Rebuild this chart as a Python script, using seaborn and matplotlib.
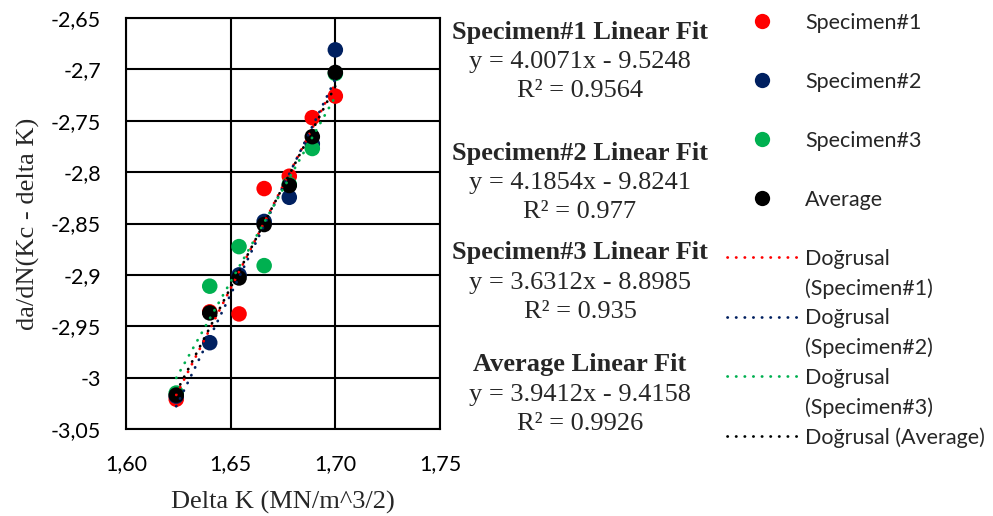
import numpy as np
import pandas as pd
import matplotlib
matplotlib.use("Agg")
import matplotlib.pyplot as plt
import seaborn as sns
from matplotlib.lines import Line2D

# ---- data ----
delta_k = [1.624, 1.640, 1.654, 1.666, 1.678, 1.689, 1.700]
specimen1 = [-3.021, -2.936, -2.938, -2.816, -2.804, -2.747, -2.726]
specimen2 = [-3.018, -2.966, -2.900, -2.848, -2.8245, -2.7725, -2.681]
specimen3 = [-3.015, -2.911, -2.8725, -2.891, -2.812, -2.777, -2.704]
average = [-3.017, -2.937, -2.903, -2.851, -2.813, -2.7655, -2.703]

series_names = ["Specimen#1", "Specimen#2", "Specimen#3", "Average"]
series_colors = ["#FF0000", "#002060", "#00B050", "#000000"]
fit_titles = ["Specimen#1 Linear Fit", "Specimen#2 Linear Fit",
              "Specimen#3 Linear Fit", "Average Linear Fit"]
fit_equations = ["y = 4.0071x - 9.5248", "y = 4.1854x - 9.8241",
                 "y = 3.6312x - 8.8985", "y = 3.9412x - 9.4158"]
fit_r2 = ["R² = 0.9564", "R² = 0.977", "R² = 0.935", "R² = 0.9926"]
trend_labels = ["Doğrusal\n(Specimen#1)", "Doğrusal\n(Specimen#2)",
                "Doğrusal\n(Specimen#3)", "Doğrusal (Average)"]

x_ticks = [1.60, 1.65, 1.70, 1.75]
x_tick_labels = ["1,60", "1,65", "1,70", "1,75"]
y_ticks = [-3.05, -3.0, -2.95, -2.9, -2.85, -2.8, -2.75, -2.7, -2.65]
y_tick_labels = ["-3,05", "-3", "-2,95", "-2,9", "-2,85", "-2,8", "-2,75", "-2,7", "-2,65"]

x_label = "Delta K (MN/m^3/2)"
y_label = "da/dN(Kc - delta K)"

values = [specimen1, specimen2, specimen3, average]
df = pd.DataFrame({
    "dk": np.tile(delta_k, len(series_names)),
    "val": np.concatenate(values),
    "series": np.repeat(series_names, len(delta_k)),
})

sns.set_theme(style="white")
plt.rcParams["font.family"] = ["Lato", "DejaVu Sans"]

fig = plt.figure(figsize=(9.93, 5.16), dpi=100)
ax = fig.add_axes([126 / 993, 1 - 429 / 516, (440 - 126) / 993, (429 - 18) / 516])

sns.scatterplot(data=df, x="dk", y="val", hue="series", hue_order=series_names,
                palette=series_colors, s=125, linewidth=0, ax=ax, legend=False, zorder=3)

for name, col in zip(series_names, series_colors):
    sub = df[df["series"] == name]
    sns.regplot(data=sub, x="dk", y="val", scatter=False, ci=None, ax=ax,
                line_kws=dict(color=col, lw=2.0, linestyle=(0, (0.1, 3.0)),
                              dash_capstyle="round", zorder=4))

ax.set_xlim(1.60, 1.75)
ax.set_ylim(-3.05, -2.65)
ax.set_xticks(x_ticks)
ax.set_xticklabels(x_tick_labels)
ax.set_yticks(y_ticks)
ax.set_yticklabels(y_tick_labels)
ax.tick_params(axis="both", length=0, labelsize=15.5, colors="black")
ax.tick_params(axis="y", pad=18)
ax.tick_params(axis="x", pad=18)
ax.grid(True, color="black", lw=1.5)
ax.set_axisbelow(True)
for sp in ax.spines.values():
    sp.set_visible(True)
    sp.set_color("black")
    sp.set_linewidth(1.5)

ax.set_xlabel(x_label, family="Liberation Serif", fontsize=19, labelpad=12)
ax.set_ylabel(y_label, family="Liberation Serif", fontsize=19, labelpad=8)

# fit annotations
title_y = [32, 153, 253, 365]
for t, eq, r2, yy in zip(fit_titles, fit_equations, fit_r2, title_y):
    fig.text(580 / 993, 1 - yy / 516, t, ha="center", va="center",
             family="Liberation Serif", fontweight="bold", fontsize=19)
    fig.text(580 / 993, 1 - (yy + 30) / 516, eq, ha="center", va="center",
             family="Liberation Serif", fontsize=19)
    fig.text(580 / 993, 1 - (yy + 59) / 516, r2, ha="center", va="center",
             family="Liberation Serif", fontsize=19)

# legend
blank = Line2D([], [], linestyle="none", marker=None)
handles, labels = [], []
for i, (name, col) in enumerate(zip(series_names, series_colors)):
    handles.append(Line2D([], [], linestyle="none", marker="o", markersize=11,
                          markerfacecolor=col, markeredgewidth=0))
    labels.append(name)
    handles.append(blank)
    labels.append(" ")
for lab, col in zip(trend_labels, series_colors):
    parts = lab.split("\n")
    handles.append(Line2D([], [], color=col, lw=2.0, linestyle=(0, (0.1, 3.0)),
                          dash_capstyle="round"))
    labels.append(parts[0])
    if len(parts) > 1:
        handles.append(blank)
        labels.append(parts[1])

fs = 15.5
leg = fig.legend(handles, labels, loc="upper left",
                 bbox_to_anchor=(727 / 993, 1 - 13 / 516),
                 bbox_transform=fig.transFigure, frameon=False,
                 fontsize=fs, labelspacing=0.44, borderpad=0, borderaxespad=0,
                 handlelength=70 / (fs * 100 / 72), handletextpad=0.37)

fig.savefig("out.png", dpi=100)
